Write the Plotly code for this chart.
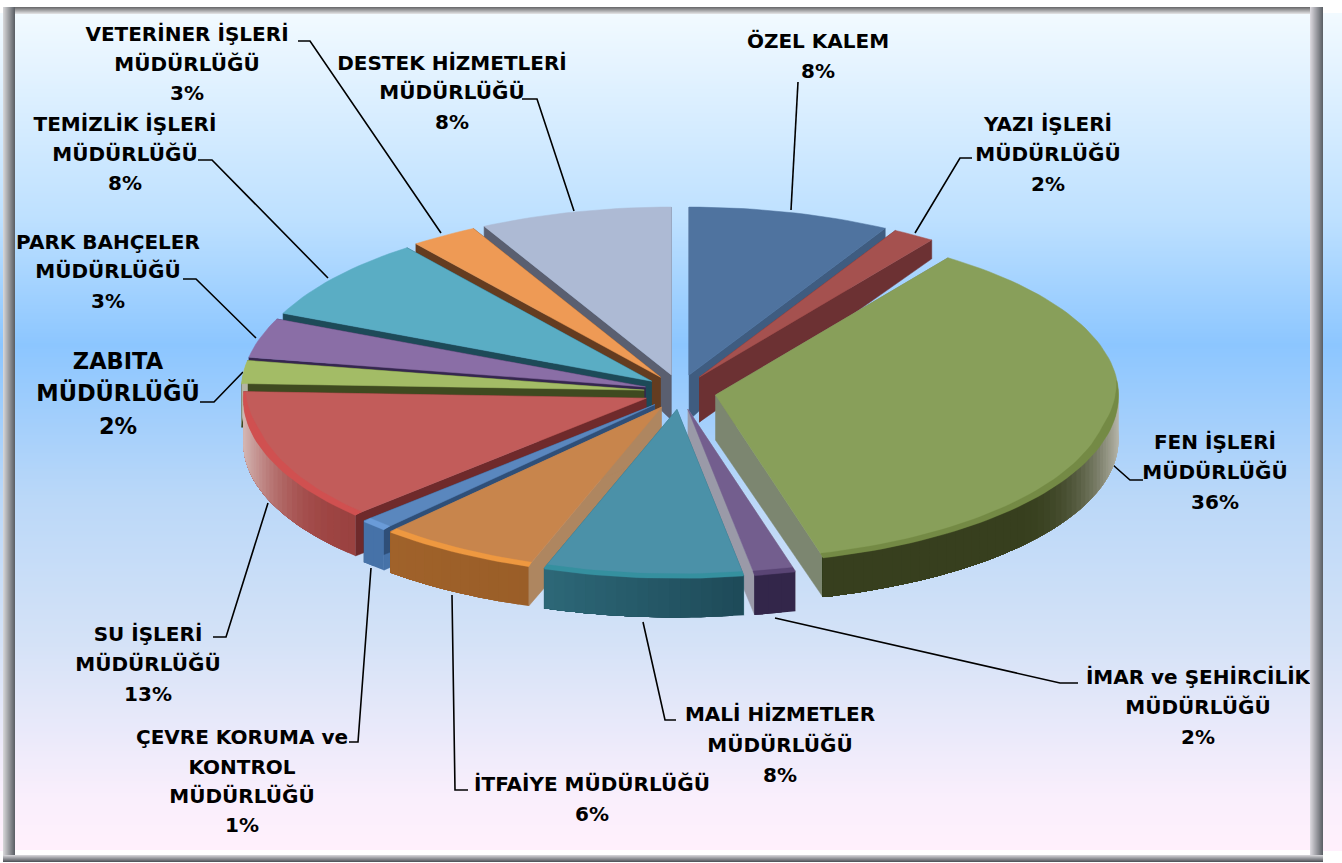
import math
import plotly.graph_objects as go

# ---- data ----
names = ["ÖZEL KALEM", "YAZI İŞLERİ MÜDÜRLÜĞÜ", "FEN İŞLERİ MÜDÜRLÜĞÜ", "İMAR ve ŞEHİRCİLİK MÜDÜRLÜĞÜ",
         "MALİ HİZMETLER MÜDÜRLÜĞÜ", "İTFAİYE MÜDÜRLÜĞÜ", "ÇEVRE KORUMA ve KONTROL MÜDÜRLÜĞÜ",
         "SU İŞLERİ MÜDÜRLÜĞÜ", "ZABITA MÜDÜRLÜĞÜ", "PARK BAHÇELER MÜDÜRLÜĞÜ", "TEMİZLİK İŞLERİ MÜDÜRLÜĞÜ",
         "VETERİNER İŞLERİ MÜDÜRLÜĞÜ", "DESTEK HİZMETLERİ MÜDÜRLÜĞÜ"]
shares = [8.1, 1.7, 35.95, 1.65, 8.0, 6.4, 1.1, 12.8, 2.2, 3.8, 8.0, 2.7, 7.7]
percent_labels = ["8%", "2%", "36%", "2%", "8%", "6%", "1%", "13%", "2%", "3%", "8%", "3%", "8%"]
label_lines = [
    ["ÖZEL KALEM"], ["YAZI İŞLERİ", "MÜDÜRLÜĞÜ"], ["FEN İŞLERİ", "MÜDÜRLÜĞÜ"],
    ["İMAR ve ŞEHİRCİLİK", "MÜDÜRLÜĞÜ"], ["MALİ HİZMETLER", "MÜDÜRLÜĞÜ"], ["İTFAİYE MÜDÜRLÜĞÜ"],
    ["ÇEVRE KORUMA ve", "KONTROL", "MÜDÜRLÜĞÜ"], ["SU İŞLERİ", "MÜDÜRLÜĞÜ"], ["ZABITA", "MÜDÜRLÜĞÜ"],
    ["PARK BAHÇELER", "MÜDÜRLÜĞÜ"], ["TEMİZLİK İŞLERİ", "MÜDÜRLÜĞÜ"], ["VETERİNER İŞLERİ", "MÜDÜRLÜĞÜ"],
    ["DESTEK HİZMETLERİ", "MÜDÜRLÜĞÜ"]]

# ---- styles ----
top_colors = ["#4F739F", "#A5514F", "#889F5A", "#735E8E", "#4B91A8", "#C8854C", "#5A87BE",
              "#C25C5A", "#A3BC66", "#8A6EA6", "#5AADC4", "#EE9A55", "#ADBAD4"]
rim_colors = ["#4F739F", "#A5514F", "#748A45", "#5A4575", "#35909F", "#EE9840", "#6A9BD8",
              "#D05050", "#A3BC66", "#8A6EA6", "#5AADC4", "#EE9A55", "#ADBAD4"]
wall_start = ["#3F5C80", "#6C3133", "#373F1E", "#33264A", "#1E4A58", "#9A5E28", "#4672A8",
              "#9A4240", "#3F4A20", "#35264F", "#1D4A58", "#643C20", "#5A5F70"]
wall_end = ["#3F5C80", "#6C3133", "#373F1E", "#33264A", "#2D6878", "#A0622A", "#4672A8",
            "#B04C4C", "#3F4A20", "#35264F", "#1D4A58", "#643C20", "#5A5F70"]
cut_start = ["#3F5C80", "#6C3133", "#7C8670", "#9A9AA8", "#2D6878", "#AE8660", "#4672A8",
             "#6F2A2B", "#3F4A20", "#35264F", "#1D4A58", "#643C20", "#5A5F70"]
cut_end = ["#3F5C80", "#6C3133", "#7C8670", "#9A9AA8", "#2D6878", "#AE8660", "#2F4F78",
           "#6F2A2B", "#3F4A20", "#35264F", "#1D4A58", "#643C20", "#5A5F70"]
draw_order = [12, 0, 11, 1, 10, 9, 8, 2, 7, 6, 5, 3, 4]

label_x = [818, 1048, 1215, 1198, 780, 592, 242, 148, 118, 108, 125, 187, 452]
label_y = [[43, 73], [126, 156, 186], [444, 474, 504], [679, 709, 739], [716, 747, 777], [786, 816],
           [739, 769, 798, 827], [636, 666, 696], [363, 395, 428], [244, 273, 303], [126, 156, 185],
           [36, 66, 95], [65, 94, 124]]
label_size = [20, 20, 20, 20, 20, 20, 20, 20, 22.5, 20, 20, 20, 20]
leaders = [
    [(798, 82), (791, 210)], [(972, 158), (960, 158), (915, 233)], [(1143, 480), (1130, 480), (1113, 465)],
    [(1078, 683), (1060, 683), (775, 618)], [(676, 720), (665, 720), (643, 622)],
    [(468, 790), (455, 790), (452, 595)], [(349, 742), (358, 742), (371, 568)],
    [(213, 637), (226, 637), (268, 503)], [(200, 402), (214, 402), (243, 372)],
    [(183, 279), (196, 279), (256, 338)], [(198, 160), (212, 160), (328, 278)],
    [(298, 41), (310, 41), (441, 233)], [(522, 99), (537, 99), (574, 211)]]

bg_stops = [(14, "#F2FAFF"), (220, "#BDE0FF"), (345, "#8CC6FF"), (500, "#BBD8F8"),
            (640, "#D4E2F7"), (800, "#FAEFFC"), (850, "#FFF0FC")]

# ---- projection ----
CX, CY, RX, RY, EX, EY = 680, 392, 403, 168, 36, 17.5


def hex2rgb(h):
    return tuple(int(h[i:i + 2], 16) for i in (1, 3, 5))


def mix(a, b, f):
    ra, rb = hex2rgb(a), hex2rgb(b)
    return "#%02X%02X%02X" % tuple(round(x + (y - x) * f) for x, y in zip(ra, rb))


def depth(r, t):
    u = r * math.cos(t)
    return 45 - 32 * u if u >= 0 else 45 + 5 * u


fig = go.Figure()

# background
ys = list(range(14, 851, 2))
y0, y1 = bg_stops[0][0], bg_stops[-1][0]
fig.add_trace(go.Heatmap(
    x=[15, 1310], y=ys, z=[[y, y] for y in ys], showscale=False, hoverinfo="skip", zmin=y0, zmax=y1,
    colorscale=[[(p - y0) / (y1 - y0), c] for p, c in bg_stops]))


def poly(xs, ys_, color, line=0.0):
    fig.add_trace(go.Scatter(x=xs, y=ys_, mode="lines" if line else "none", fill="toself", fillcolor=color,
                             line=dict(color=color, width=line), hoverinfo="skip", showlegend=False))


# leader lines go under the pie
for pts in leaders:
    fig.add_trace(go.Scatter(x=[p[0] for p in pts], y=[p[1] for p in pts], mode="lines",
                             line=dict(color="black", width=1.6), hoverinfo="skip", showlegend=False))

# slices
total = sum(shares)
angles = [0]
for s in shares:
    angles.append(angles[-1] + s / total * 2 * math.pi)

for i in draw_order:
    a0, a1 = angles[i], angles[i + 1]
    m = (a0 + a1) / 2
    ox, oy = CX + EX * math.sin(m), CY - EY * math.cos(m)
    n = max(2, int((a1 - a0) / math.radians(1.5)))
    ts = [a0 + (a1 - a0) * k / n for k in range(n + 1)]
    px = lambda r, t: ox + r * RX * math.sin(t)
    py = lambda r, t: oy - r * RY * math.cos(t)
    # cut walls
    for t, col in ((a0, cut_start[i]), (a1, cut_end[i])):
        rs = [0, 0.5, 1]
        xs = [px(r, t) for r in rs] + [px(r, t) for r in rs[::-1]]
        yy = [py(r, t) for r in rs] + [py(r, t) + depth(r, t) for r in rs[::-1]]
        poly(xs, yy, col, 0.5)
    # outer wall, shaded: every band runs to the end of the slice so no seams show
    for k in range(n):
        tm = (ts[k] + ts[k + 1]) / 2
        if math.cos(tm) > 0.1:
            continue
        base = mix(wall_start[i], wall_end[i], (tm - a0) / (a1 - a0))
        sn = abs(math.sin(tm))
        f = max(0.0, (sn - 0.72) / 0.28) ** 3 * 0.75
        rest = ts[k:]
        xs = [px(1, t) for t in rest] + [px(1, t) for t in rest[::-1]]
        yy = [py(1, t) for t in rest] + [py(1, t) + depth(1, t) for t in rest[::-1]]
        poly(xs, yy, mix(base, "#E0DCD8", f))
    # top surface
    xs = [ox] + [px(1, t) for t in ts] + [ox]
    yy = [oy] + [py(1, t) for t in ts] + [oy]
    poly(xs, yy, top_colors[i], 0.5)
    # bevel along the front rim, tapering away at the sides
    front = [t for t in ts if math.cos(t) < 0.1]
    if len(front) > 1:
        inner = [1 - 0.022 * min(1.0, (0.1 - math.cos(t)) / 0.3) for t in front]
        xs = [px(1, t) for t in front] + [px(r, t) for r, t in zip(inner[::-1], front[::-1])]
        yy = [py(1, t) + 1.0 for t in front] + [py(r, t) for r, t in zip(inner[::-1], front[::-1])]
        poly(xs, yy, rim_colors[i], 0.3)

# labels
tx, ty, tt, ts_ = [], [], [], []
for i in range(len(names)):
    for text, y in zip(label_lines[i] + [percent_labels[i]], label_y[i]):
        tx.append(label_x[i])
        ty.append(y)
        tt.append(text)
        ts_.append(label_size[i])
fig.add_trace(go.Scatter(x=tx, y=ty, text=tt, mode="text", textposition="middle center", hoverinfo="skip",
                         showlegend=False,
                         textfont=dict(family="DejaVu Sans", size=ts_, color="black", weight=700)))

# bevelled frame
shapes = []


def band(n, c0, c1, rect):
    for k in range(n):
        shapes.append(dict(type="rect", xref="x", yref="y", line_width=0,
                           fillcolor=mix(c0, c1, k / max(1, n - 1)), **rect(k)))


band(7, "#6E6E70", "#DCDCDE", lambda k: dict(x0=3, x1=1323, y0=7 + k, y1=8 + k))
band(12, "#D4D4D6", "#5E6268", lambda k: dict(x0=3 + k, x1=4 + k, y0=7, y1=862))
band(13, "#D8D6DC", "#5E6268", lambda k: dict(x0=1310 + k, x1=1311 + k, y0=7, y1=862))
band(6, "#FFFFFF", "#FFFFFF", lambda k: dict(x0=15, x1=1310, y0=850 + k, y1=851 + k))
band(7, "#D0D0D4", "#55585E", lambda k: dict(x0=3, x1=1323, y0=855 + k, y1=856 + k))

fig.update_layout(
    width=1342, height=863, margin=dict(l=0, r=0, t=0, b=0), paper_bgcolor="white", plot_bgcolor="white",
    showlegend=False, shapes=shapes,
    xaxis=dict(range=[0, 1342], visible=False, fixedrange=True),
    yaxis=dict(range=[863, 0], visible=False, fixedrange=True))
fig.write_html("out.html", config={"displayModeBar": False},
               post_script="document.body.style.margin='0';document.body.style.overflow='hidden';")
